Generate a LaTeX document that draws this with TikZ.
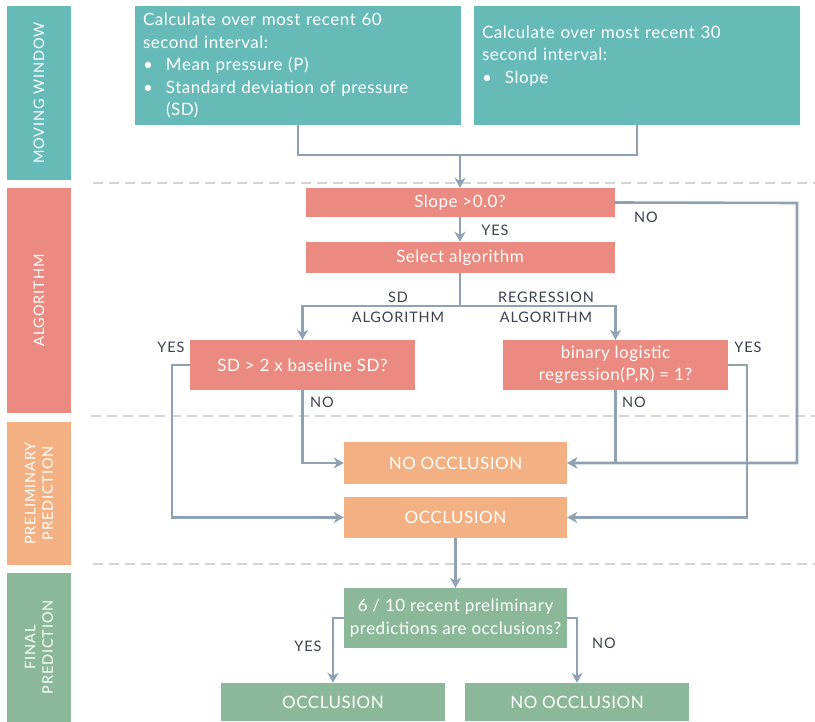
\documentclass[tikz,border=0pt]{standalone}
\usepackage{fontspec}
\setmainfont{Lato}
\usetikzlibrary{arrows.meta, positioning, calc}
\definecolor{WindowTeal}{HTML}{66BAB8}
\definecolor{AlgoSalmon}{HTML}{EA8A80}
\definecolor{PrelimOrange}{HTML}{F3B183}
\definecolor{FinalGreen}{HTML}{8CB89A}
\definecolor{LinkGray}{HTML}{8FA2B4}
\definecolor{DashGray}{HTML}{D4D4D4}
\definecolor{LabelDark}{HTML}{3C3F4E}
\newcommand{\bitem}[1]{\makebox[23pt][l]{\textbullet}#1}

\begin{document}
\begin{tikzpicture}[x=1pt, y=-1pt,
    stage/.style={fill=#1, text=white, inner sep=0pt, align=center,
        font=\fontsize{17}{22.5}\selectfont\addfontfeatures{LetterSpace=3}},
    side/.style={fill=#1, text=white, inner sep=0pt, rotate=90, minimum height=64pt, align=center,
        font=\fontsize{14.5}{17.5}\selectfont\addfontfeatures{LetterSpace=6}},
    link/.style={draw=LinkGray, line width=2.6pt},
    arrow/.style={link, -{Stealth[length=10pt, width=11pt, inset=3pt]}},
    sep/.style={draw=DashGray, line width=2.5pt, dash pattern=on 10pt off 6pt},
    lbl/.style={text=LabelDark, inner sep=0pt, align=center,
        font=\fontsize{14.5}{20}\selectfont\addfontfeatures{LetterSpace=6}}
]
\useasboundingbox (0,0) rectangle (815,722);

% Section bars
\node[side=WindowTeal, minimum width=174pt] (sidewin) at (39,93) {MOVING WINDOW};
\node[side=AlgoSalmon, minimum width=225pt] (sidealg) at (39,300.5) {ALGORITHM};
\node[side=PrelimOrange, minimum width=143pt] (sidepre) at (39,493.5) {PRELIMINARY\\PREDICTION};
\node[side=FinalGreen, minimum width=149pt] (sidefin) at (39,647.5) {FINAL\\PREDICTION};

% Dashed separators
\draw[sep] (93,183) -- (815,183);
\draw[sep] (91,416) -- (815,416);
\draw[sep] (93,564) -- (815,564);

% Moving window
\node[stage=WindowTeal, minimum width=326pt, minimum height=119pt, align=left, text width=310pt] (win60) at (298,65.5)
    {Calculate over most recent 60\\second interval:\\\bitem{Mean pressure (P)}\\\bitem{Standard deviation of pressure}\\\hspace*{23pt}(SD)};
\node[stage=WindowTeal, minimum width=326pt, minimum height=119pt, align=left, text width=310pt] (win30) at (637,65.5)
    {Calculate over most recent 30\\second interval:\\\bitem{Slope}\\~};
\coordinate (join) at (460,155);

% Algorithm
\node[stage=AlgoSalmon, minimum width=309pt, minimum height=29pt] (slope) at (460,202.5) {Slope >0.0?};
\node[stage=AlgoSalmon, minimum width=309pt, minimum height=31pt] (select) at (460,257.5) {Select algorithm};
\coordinate (split) at (460,306);
\node[stage=AlgoSalmon, minimum width=225pt, minimum height=50pt] (sdtest) at (302.5,365) {SD > 2 x baseline SD?};
\node[stage=AlgoSalmon, minimum width=225pt, minimum height=50pt] (regtest) at (615.5,365) {binary logistic\\regression(P,R) = 1?};
\coordinate (slopeno) at (797,203);
\coordinate (sdyes) at (172,365);
\coordinate (regyes) at (747,365);

% Preliminary prediction
\node[stage=PrelimOrange, minimum width=223pt, minimum height=42pt] (prenoocc) at (455.5,463) {NO OCCLUSION};
\node[stage=PrelimOrange, minimum width=223pt, minimum height=41pt] (preocc) at (455.5,517.5) {OCCLUSION};

% Final prediction
\node[stage=FinalGreen, minimum width=223pt, minimum height=60pt] (vote) at (455.5,618) {6 / 10 recent preliminary\\predictions are occlusions?};
\node[stage=FinalGreen, minimum width=224pt, minimum height=38pt] (finocc) at (333,702) {OCCLUSION};
\node[stage=FinalGreen, minimum width=224pt, minimum height=38pt] (finnoocc) at (577,702) {NO OCCLUSION};

% Connectors
\draw[link] (win60.south) |- (join);
\draw[link] (win30.south) |- (join);
\draw[arrow] (join) -- (slope.north);
\draw[arrow] (slope.south) -- (select.north);
\draw[arrow] (slope.east) -- (slopeno) |- (prenoocc.east);
\draw[link] (select.south) -- (split);
\draw[arrow] (split) -| (sdtest.north);
\draw[arrow] (split) -| (regtest.north);
\draw[arrow] (sdtest.west) -- (sdyes) |- (preocc.west);
\draw[arrow] (sdtest.south) |- (prenoocc.west);
\draw[arrow] (regtest.south) |- (prenoocc.east);
\draw[arrow] (regtest.east) -- (regyes) |- (preocc.east);
\draw[arrow] (preocc.south) -- (vote.north);
\draw[arrow] (vote.west) -| (finocc.north);
\draw[arrow] (vote.east) -| (finnoocc.north);

% Branch labels
\node[lbl] (lslopeyes) at (495,230) {YES};
\node[lbl] (lslopeno) at (646,217) {NO};
\node[lbl] (lsdalg) at (398,307) {SD\\ALGORITHM};
\node[lbl] (lregalg) at (546,307) {REGRESSION\\ALGORITHM};
\node[lbl] (lsdyes) at (171,347) {YES};
\node[lbl] (lsdno) at (322,402) {NO};
\node[lbl] (lregno) at (634,402) {NO};
\node[lbl] (lregyes) at (748,347) {YES};
\node[lbl] (lvoteyes) at (308,646) {YES};
\node[lbl] (lvoteno) at (604,643) {NO};
\end{tikzpicture}
\end{document}
